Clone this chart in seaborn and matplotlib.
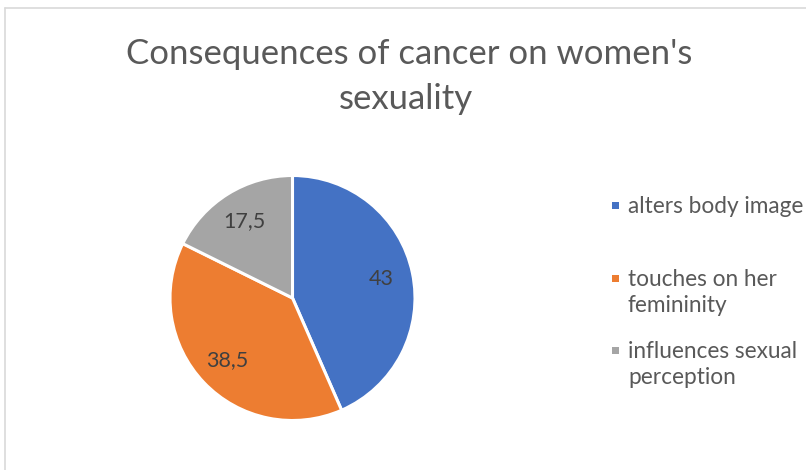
import matplotlib
matplotlib.use("Agg")
import matplotlib.pyplot as plt
from matplotlib.patches import Rectangle
from matplotlib.lines import Line2D
import seaborn as sns

# ---- data ----
categories = ["alters body image", "touches on her femininity", "influences sexual perception"]
legend_labels = ["alters body image", "touches on her\nfemininity", "influences sexual\nperception"]
values = [43, 38.5, 17.5]
title_lines = ["Consequences of cancer on women's", "sexuality"]

colors = ["#4472C4", "#ED7D31", "#A5A5A5"]

sns.set_theme(style="white")
plt.rcParams["font.family"] = ["Lato", "DejaVu Sans"]

W, H = 806, 470
fig = plt.figure(figsize=(W / 100, H / 100), dpi=100)
fig.patch.set_facecolor("white")

def fx(x):
    return x / W

def fy(y):
    return 1 - y / H

# chart frame (light gray)
fig.add_artist(Line2D([fx(5), fx(5)], [fy(8), 0], color="#D9D9D9", lw=1.2))
fig.add_artist(Line2D([fx(5), 1], [fy(8), fy(8)], color="#D9D9D9", lw=1.2))

# pie axes: center (292.5, 298), radius 122.5 px
cx, cy, r = 292.5, 298, 122.5
ax = fig.add_axes([fx(cx - r), fy(cy + r), 2 * r / W, 2 * r / H])
total = sum(values)

def fmt(p):
    v = round(p * total / 100, 1)
    s = f"{v:g}"
    return s.replace(".", ",")

wedges, texts, autotexts = ax.pie(
    values, colors=colors, startangle=90, counterclock=False,
    autopct=fmt, pctdistance=0.74, radius=1,
    wedgeprops=dict(edgecolor="white", linewidth=2.2),
    textprops=dict(color="#404040", fontsize=15.5),
)
ax.set_xlim(-1, 1)
ax.set_ylim(-1, 1)
ax.set_aspect("auto")
ax.axis("off")

# title
fig.canvas.draw()
renderer = fig.canvas.get_renderer()

def fit(t, target_w):
    bb = t.get_window_extent(renderer)
    t.set_fontsize(t.get_fontsize() * target_w / bb.width)

t1 = fig.text(fx(409), fy(64), title_lines[0], ha="center", va="baseline",
              fontsize=24, color="#595959")
fit(t1, 566)
t2 = fig.text(fx(406), fy(109), title_lines[1], ha="center", va="baseline",
              fontsize=t1.get_fontsize(), color="#595959")

# legend
baselines = [213, 286, 358]
line_gap = 26
lt = None
for lab, col, b in zip(legend_labels, colors, baselines):
    lines = lab.split("\n")
    for k, ln in enumerate(lines):
        t = fig.text(fx(628), fy(b + k * line_gap), ln, ha="left", va="baseline",
                     fontsize=14, color="#595959")
        if lt is None:
            lt = t
            fit(t, 176)
        else:
            t.set_fontsize(lt.get_fontsize())
    fig.add_artist(Rectangle((fx(612), fy(b - 4)), 7 / W, 7 / H,
                             transform=fig.transFigure, facecolor=col, edgecolor="none"))

fig.savefig("out.png", dpi=100, facecolor="white")
